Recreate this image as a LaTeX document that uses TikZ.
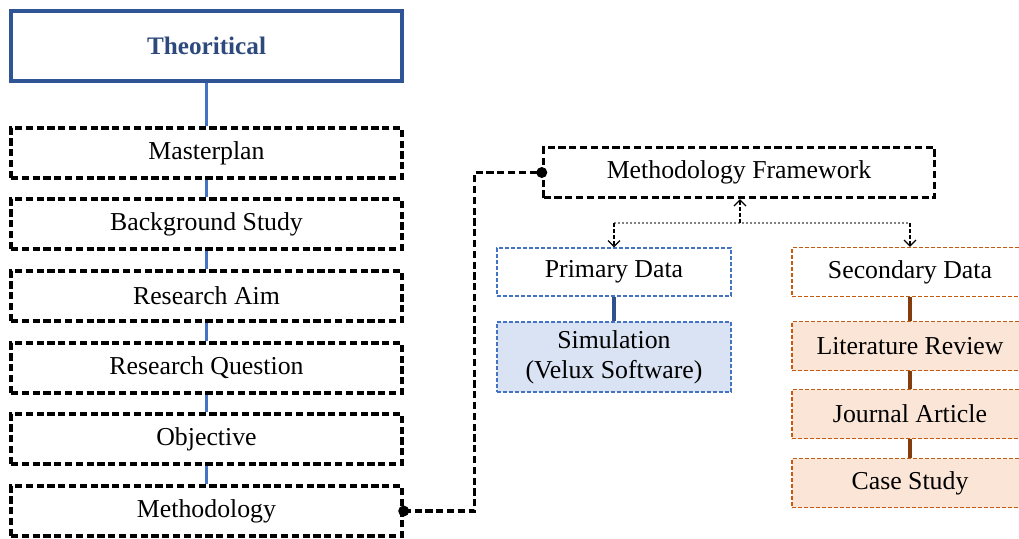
\documentclass[tikz,border=0pt]{standalone}
\usepackage{fontspec}
\setmainfont{Liberation Serif}
\usepackage{tikz}
\usetikzlibrary{arrows.meta}
\definecolor{navytext}{RGB}{46,74,125}
\definecolor{frameblue}{RGB}{47,85,151}
\definecolor{linkblue}{RGB}{68,114,196}
\definecolor{darkblue}{RGB}{47,82,143}
\definecolor{simfill}{RGB}{218,227,243}
\definecolor{secorange}{RGB}{197,90,17}
\definecolor{secfill}{RGB}{251,229,214}
\definecolor{secbrown}{RGB}{132,60,12}

\begin{document}
\begin{tikzpicture}[x=0.5pt, y=-0.5pt,
  font=\fontsize{12.9}{15}\selectfont,
  mainbox/.style={draw=frameblue, line width=1.6pt, minimum width=195.5pt,
                  minimum height=35pt, text=navytext, font=\fontsize{12.6}{15}\selectfont\bfseries},
  stepbox/.style={draw, line width=1.7pt, dash pattern=on 3.6pt off 1.8pt,
                  minimum width=195.5pt, minimum height=25pt, inner sep=0pt},
  primbox/.style={draw=linkblue, line width=0.6pt, dash pattern=on 2pt off 1pt,
                  minimum width=117pt, minimum height=24pt, align=center, inner sep=0pt},
  secbox/.style={draw=secorange, line width=0.6pt, dash pattern=on 2pt off 1pt,
                 fill=secfill, minimum width=118pt, minimum height=24.5pt, inner sep=0pt},
  blueline/.style={linkblue, line width=1.6pt},
  dot/.style={circle, fill, inner sep=0pt, minimum size=5.5pt},
  link/.style={line width=1.7pt, dash pattern=on 3.6pt off 1.8pt},
  hline/.style={gray, line width=0.8pt, dash pattern=on 1pt off 1pt},
  vline/.style={line width=0.6pt, dash pattern=on 2pt off 1pt,
                -{Straight Barb[length=3pt, width=6pt]}}
]
  \useasboundingbox (0,0) rectangle (1019,538);

  % left column
  \node[mainbox] (theo) at (206.5,46) {Theoritical};
  \node[stepbox] (mplan) at (206.5,153) {Masterplan};
  \node[stepbox] (bstudy) at (206.5,224) {Background Study};
  \node[stepbox] (raim) at (206.5,296) {Research Aim};
  \node[stepbox] (rques) at (206.5,368) {Research Question};
  \node[stepbox] (obj) at (206.5,439) {Objective};
  \node[stepbox] (meth) at (206.5,511) {Methodology};
  \foreach \a/\b in {theo/mplan, mplan/bstudy, bstudy/raim, raim/rques, rques/obj, obj/meth}
    \draw[blueline] (\a) -- (\b);

  % framework
  \node[stepbox] (mframe) at (739,172.5) {Methodology Framework};
  \draw[link] (meth.east) -- ++(71,0) |- (mframe.west);
  \node[dot] at (meth.east) {};
  \node[dot] at (mframe.west) {};

  % primary data
  \node[primbox] (prim) at (614,272) {Primary Data};
  \node[primbox, fill=simfill, minimum height=35pt] (simul) at (614,357)
    {Simulation\\(Velux Software)};
  \draw[darkblue, line width=1.6pt] (prim) -- (simul);

  % secondary data
  \node[secbox, fill=none] (sec) at (910,272) {Secondary Data};
  \node[secbox] (litrev) at (910,346) {Literature Review};
  \node[secbox] (jart) at (910,414) {Journal Article};
  \node[secbox] (cstudy) at (910,483) {Case Study};
  \foreach \a/\b in {sec/litrev, litrev/jart, jart/cstudy}
    \draw[secbrown, line width=1.6pt] (\a) -- (\b);

  % dotted split
  \coordinate (split) at (740,223);
  \draw[hline] (prim.north |- split) -- (sec.north |- split);
  \draw[vline] (split) -- (mframe.south -| split);
  \draw[vline] (prim.north |- split) -- (prim.north);
  \draw[vline] (sec.north |- split) -- (sec.north);
\end{tikzpicture}
\end{document}
